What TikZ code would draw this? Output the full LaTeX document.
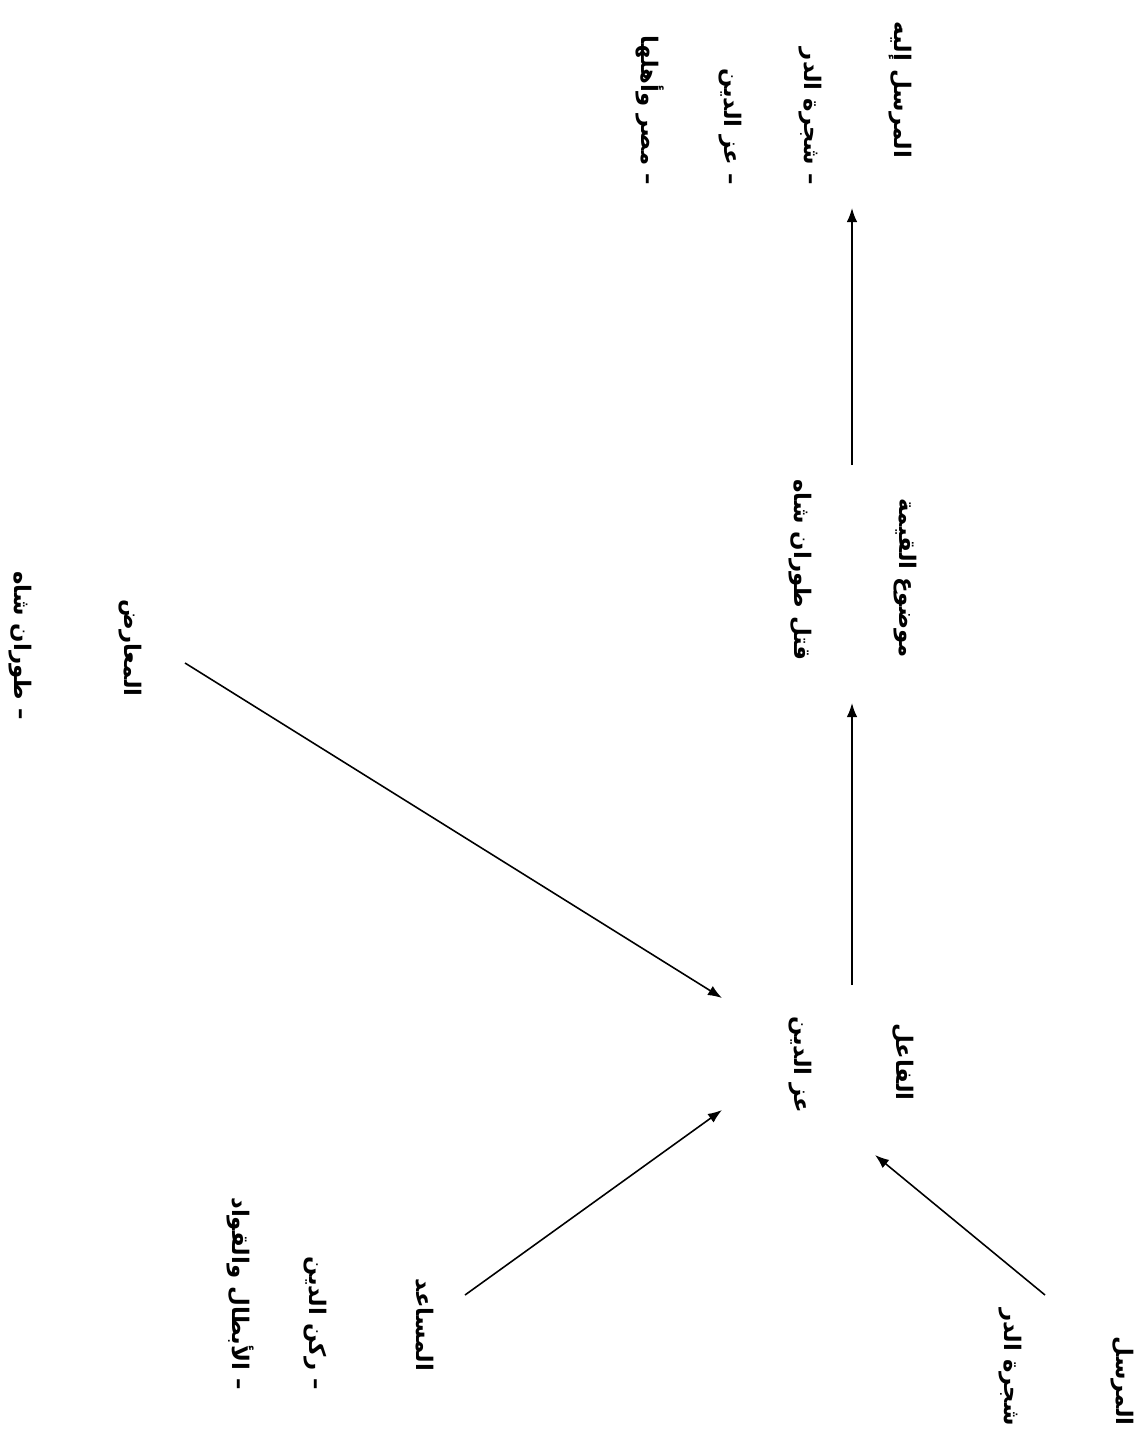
\documentclass[tikz,border=0pt]{standalone}
\usepackage{fontspec}
\usetikzlibrary{arrows.meta}
\TeXXeTstate=1
\newfontfamily\arabicfont[Script=Arabic]{DejaVu Sans}
\begin{document}
\begin{tikzpicture}[x=0.02cm,y=-0.02cm,
  lbl/.style={rotate=-90, font=\arabicfont\bfseries\fontsize{13}{16}\selectfont, inner sep=0pt},
  arr/.style={-{Latex[length=8pt,width=6pt]}, line width=0.9pt}]
\useasboundingbox[fill=white] (0,0) rectangle (1146,1432);
% actants (titles)
\node[lbl,anchor=east] (sender) at (1122,1426) {\beginR المرسل\endR};
\node[lbl] (subject)  at (903,1062)  {\beginR الفاعل\endR};
\node[lbl] (object)   at (905,578)   {\beginR موضوع القيمة\endR};
\node[lbl] (receiver) at (900,90)    {\beginR المرسل إليه\endR};
\node[lbl] (helper)   at (425,1325)  {\beginR المساعد\endR};
\node[lbl] (opponent) at (130,648)   {\beginR المعارض\endR};
% contents
\node[lbl,anchor=east] (senderA) at (1010,1426) {\beginR شجرة الدر\endR};
\node[lbl] (subjA)    at (800,1065)  {\beginR عز الدين\endR};
\node[lbl] (objA)     at (800,570)   {\beginR قتل طوران شاه\endR};
\node[lbl,anchor=east] (recA) at (810,185) {\beginR – شجرة الدر\endR};
\node[lbl,anchor=east] (recB) at (730,185) {\beginR – عز الدين\endR};
\node[lbl,anchor=east] (recC) at (650,185) {\beginR – مصر وأهلها\endR};
\node[lbl,anchor=east] (oppA) at (20,720)  {\beginR – طوران شاه\endR};
\node[lbl,anchor=east] (helA) at (315,1390) {\beginR – ركن الدين\endR};
\node[lbl,anchor=east] (helB) at (240,1390) {\beginR – الأبطال والقواد\endR};
% connector end points
\coordinate (s1) at (1045,1295); \coordinate (s2) at (875,1155);
\coordinate (h1) at (465,1295);  \coordinate (h2) at (722,1110);
\coordinate (o1) at (185,663);   \coordinate (o2) at (722,998);
\coordinate (f1) at (852,985);   \coordinate (f2) at (852,703);
\coordinate (m1) at (852,465);   \coordinate (m2) at (852,208);
\draw[arr] (s1) -- (s2);
\draw[arr] (h1) -- (h2);
\draw[arr] (o1) -- (o2);
\draw[arr] (f1) -- (f2);
\draw[arr] (m1) -- (m2);
\end{tikzpicture}
\end{document}
